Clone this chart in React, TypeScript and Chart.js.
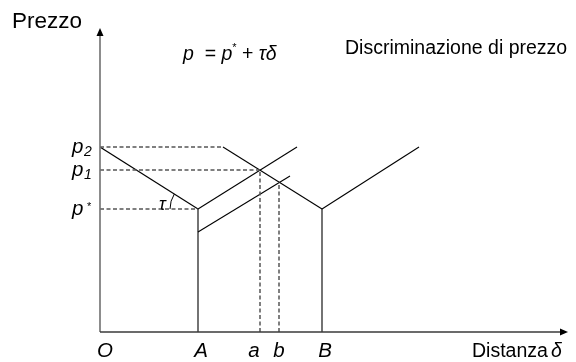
import React, { useEffect, useRef } from "react";
import { Chart, registerables } from "chart.js";

Chart.register(...registerables);

// Axis extents (data units)
const xAxisMax = 468;
const yAxisMax = 304;

// Locations on the distance axis
const distLabels = ["O", "A", "a", "b", "B"];
const distValues = [0, 98, 160, 179, 222];

// Price levels
const priceLabels = ["p2", "p1", "p*"];
const priceValues = [185, 162, 123];

// Price schedules (solid)
const leftDescX = [0, 98];
const leftDescY = [185, 123];
const rightDescX = [123, 222];
const rightDescY = [185, 123];
const riseAX = [98, 197];
const riseAY = [123, 185];
const riseBX = [222, 319];
const riseBY = [123, 185];
const lowerRiseX = [98, 190];
const lowerRiseY = [100, 156];
const vertAX = [98, 98];
const vertAY = [0, 123];
const vertBX = [222, 222];
const vertBY = [0, 123];

// Dashed guides
const dashP2X = [0, 123];
const dashP2Y = [185, 185];
const dashP1X = [0, 160];
const dashP1Y = [162, 162];
const dashPsX = [0, 98];
const dashPsY = [123, 123];
const dashAX = [160, 160];
const dashAY = [0, 162];
const dashBX = [179, 179];
const dashBY = [0, 150];

const FONT = "'Liberation Sans', Arial, sans-serif";

function seg(xs: number[], ys: number[], dashed: boolean) {
  return {
    data: xs.map((x, i) => ({ x, y: ys[i] })),
    showLine: true,
    borderColor: dashed ? "#555555" : "#000000",
    borderWidth: dashed ? 1.5 : 1.1,
    borderDash: dashed ? [4, 2.5] : [],
    pointRadius: 0,
    fill: false,
  };
}

const overlay = {
  id: "overlay",
  afterDraw(chart: any) {
    const ctx = chart.ctx;
    const xs = chart.scales.x;
    const ys = chart.scales.y;
    const x0 = xs.getPixelForValue(0);
    const y0 = ys.getPixelForValue(0);
    const xEnd = xs.getPixelForValue(xAxisMax);
    const yEnd = ys.getPixelForValue(yAxisMax);
    ctx.save();
    // axes
    ctx.lineWidth = 1.6;
    ctx.strokeStyle = "#707070";
    ctx.beginPath();
    ctx.moveTo(x0, y0);
    ctx.lineTo(x0, yEnd + 6);
    ctx.stroke();
    ctx.strokeStyle = "#3a3a3a";
    ctx.beginPath();
    ctx.moveTo(x0, y0);
    ctx.lineTo(xEnd - 6, y0);
    ctx.stroke();
    ctx.fillStyle = "#000";
    ctx.beginPath();
    ctx.moveTo(x0, yEnd);
    ctx.lineTo(x0 - 3.5, yEnd + 8);
    ctx.lineTo(x0 + 3.5, yEnd + 8);
    ctx.closePath();
    ctx.fill();
    ctx.beginPath();
    ctx.moveTo(xEnd, y0);
    ctx.lineTo(xEnd - 8, y0 - 3.5);
    ctx.lineTo(xEnd - 8, y0 + 3.5);
    ctx.closePath();
    ctx.fill();

    // tau arc
    const ax = xs.getPixelForValue(leftDescX[1]);
    const ay = ys.getPixelForValue(leftDescY[1]);
    const sx = xs.getPixelForValue(leftDescX[0]);
    const sy = ys.getPixelForValue(leftDescY[0]);
    const th = Math.atan2(ay - sy, ax - sx);
    ctx.strokeStyle = "#000";
    ctx.lineWidth = 1;
    ctx.beginPath();
    ctx.arc(ax, ay, 28, Math.PI, Math.PI + th);
    ctx.stroke();

    ctx.fillStyle = "#000";
    ctx.textBaseline = "alphabetic";
    // titles
    ctx.textAlign = "left";
    ctx.font = `22.5px ${FONT}`;
    ctx.fillText("Prezzo", 12, 28);
    ctx.font = `19.5px ${FONT}`;
    ctx.fillText("Discriminazione di prezzo", 345, 54);
    ctx.fillText("Distanza", 472, 357);
    ctx.font = `italic 19.5px ${FONT}`;
    ctx.fillText("δ", 551, 357);

    // formula: p  = p* + τδ
    const parts: [string, string][] = [
      ["p", `italic 19.5px ${FONT}`],
      ["  = ", `19.5px ${FONT}`],
      ["p", `italic 19.5px ${FONT}`],
      ["*", `11px ${FONT}`],
      [" + ", `19.5px ${FONT}`],
      ["τδ", `italic 19.5px ${FONT}`],
    ];
    let fx = 183;
    parts.forEach(([t, f]) => {
      ctx.font = f;
      ctx.fillText(t, fx, t === "*" ? 51 : 60);
      fx += ctx.measureText(t).width;
    });

    // tau label
    ctx.font = `italic 18px ${FONT}`;
    ctx.fillText("τ", 159, 210);

    // distance labels
    ctx.textAlign = "center";
    ctx.font = `italic 20.5px ${FONT}`;
    distLabels.forEach((l, i) => {
      let px = xs.getPixelForValue(distValues[i]);
      if (i === 0) px += 5;
      else if (l === "a") px -= 6;
      else if (l === "A" || l === "B") px += 3;
      ctx.fillText(l, px, 357);
    });

    // price labels
    ctx.textAlign = "left";
    priceLabels.forEach((l, i) => {
      const py = ys.getPixelForValue(priceValues[i]);
      ctx.font = `italic 20.5px ${FONT}`;
      ctx.fillText("p", 72, py + 6);
      const sub = l.slice(1);
      if (sub === "*") {
        ctx.font = `11px ${FONT}`;
        ctx.fillText("*", 87, py + 1);
      } else {
        ctx.font = `italic 14px ${FONT}`;
        ctx.fillText(sub, 84, py + 9);
      }
    });
    ctx.restore();
  },
};

export default function App() {
  const ref = useRef<HTMLCanvasElement | null>(null);
  useEffect(() => {
    document.body.style.margin = "0";
    const c = ref.current;
    if (!c) return;
    const chart = new Chart(c, {
      type: "scatter",
      data: {
        datasets: [
          seg(dashP2X, dashP2Y, true),
          seg(dashP1X, dashP1Y, true),
          seg(dashPsX, dashPsY, true),
          seg(dashAX, dashAY, true),
          seg(dashBX, dashBY, true),
          seg(leftDescX, leftDescY, false),
          seg(rightDescX, rightDescY, false),
          seg(riseAX, riseAY, false),
          seg(riseBX, riseBY, false),
          seg(lowerRiseX, lowerRiseY, false),
          seg(vertAX, vertAY, false),
          seg(vertBX, vertBY, false),
        ] as any,
      },
      options: {
        animation: false,
        responsive: false,
        layout: { padding: { left: 100, right: 8, top: 28, bottom: 30 } },
        plugins: { legend: { display: false }, tooltip: { enabled: false } },
        scales: {
          x: { type: "linear", min: 0, max: xAxisMax, display: false },
          y: { type: "linear", min: 0, max: yAxisMax, display: false },
        },
      },
      plugins: [overlay],
    });
    return () => chart.destroy();
  }, []);
  return <canvas ref={ref} width={576} height={362} style={{ display: "block" }} />;
}
